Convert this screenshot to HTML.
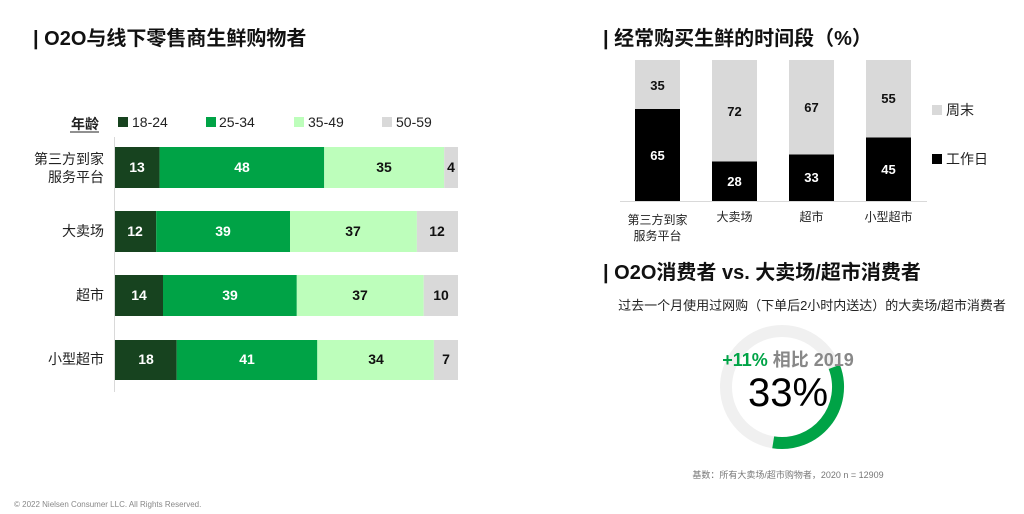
<!DOCTYPE html>
<html><head><meta charset="utf-8"><style>
body{margin:0;background:#fff;}
svg{display:block;font-family:"Liberation Sans","Noto Sans CJK SC",sans-serif;}
</style></head><body>
<svg width="1024" height="514" viewBox="0 0 1024 514">
<rect width="1024" height="514" fill="#fff"/>
<!-- titles -->
<text x="33" y="45" font-size="20" font-weight="bold" fill="#111">| O2O与线下零售商生鲜购物者</text>
<text x="603" y="45" font-size="20" font-weight="bold" fill="#111">| 经常购买生鲜的时间段（%）</text>
<text x="603" y="279" font-size="20" font-weight="bold" fill="#111">| O2O消费者 vs. 大卖场/超市消费者</text>

<!-- left legend -->
<text x="99" y="129" font-size="14" font-weight="bold" fill="#222" text-anchor="end">年龄</text>
<line x1="70" y1="132" x2="99" y2="132" stroke="#222" stroke-width="1"/>
<rect x="118" y="117" width="10" height="10" fill="#17431f"/><text x="132" y="127" font-size="14" fill="#222">18-24</text>
<rect x="206" y="117" width="10" height="10" fill="#00a346"/><text x="219" y="127" font-size="14" fill="#222">25-34</text>
<rect x="294" y="117" width="10" height="10" fill="#bdfebb"/><text x="308" y="127" font-size="14" fill="#222">35-49</text>
<rect x="382" y="117" width="10" height="10" fill="#d9d9d9"/><text x="396" y="127" font-size="14" fill="#222">50-59</text>

<line x1="114.5" y1="137" x2="114.5" y2="392" stroke="#d9d9d9"/>

<g font-size="14" font-weight="bold" text-anchor="middle">
<!-- row1 -->
<rect x="115" y="147" width="44.6" height="41" fill="#17431f"/>
<rect x="159.6" y="147" width="164.6" height="41" fill="#00a346"/>
<rect x="324.2" y="147" width="120" height="41" fill="#bdfebb"/>
<rect x="444.2" y="147" width="13.8" height="41" fill="#d9d9d9"/>
<text x="137" y="172" fill="#fff">13</text><text x="242" y="172" fill="#fff">48</text><text x="384" y="172" fill="#111">35</text><text x="451" y="172" fill="#111">4</text>
<!-- row2 -->
<rect x="115" y="211" width="41.2" height="41" fill="#17431f"/>
<rect x="156.2" y="211" width="133.8" height="41" fill="#00a346"/>
<rect x="290" y="211" width="126.9" height="41" fill="#bdfebb"/>
<rect x="416.9" y="211" width="41.1" height="41" fill="#d9d9d9"/>
<text x="135" y="236" fill="#fff">12</text><text x="223" y="236" fill="#fff">39</text><text x="353" y="236" fill="#111">37</text><text x="437" y="236" fill="#111">12</text>
<!-- row3 -->
<rect x="115" y="275" width="48" height="41" fill="#17431f"/>
<rect x="163" y="275" width="133.8" height="41" fill="#00a346"/>
<rect x="296.8" y="275" width="126.9" height="41" fill="#bdfebb"/>
<rect x="423.7" y="275" width="34.3" height="41" fill="#d9d9d9"/>
<text x="139" y="300" fill="#fff">14</text><text x="230" y="300" fill="#fff">39</text><text x="360" y="300" fill="#111">37</text><text x="441" y="300" fill="#111">10</text>
<!-- row4 -->
<rect x="115" y="340" width="61.7" height="40" fill="#17431f"/>
<rect x="176.7" y="340" width="140.6" height="40" fill="#00a346"/>
<rect x="317.3" y="340" width="116.6" height="40" fill="#bdfebb"/>
<rect x="433.9" y="340" width="24.1" height="40" fill="#d9d9d9"/>
<text x="146" y="364" fill="#fff">18</text><text x="247" y="364" fill="#fff">41</text><text x="376" y="364" fill="#111">34</text><text x="446" y="364" fill="#111">7</text>
</g>

<g font-size="14" fill="#222" text-anchor="end">
<text x="104" y="164">第三方到家</text><text x="104" y="182">服务平台</text>
<text x="104" y="236">大卖场</text>
<text x="104" y="300">超市</text>
<text x="104" y="364">小型超市</text>
</g>

<!-- right stacked columns -->
<g font-size="13" font-weight="bold" text-anchor="middle">
<rect x="635" y="60" width="45" height="49" fill="#d9d9d9"/><rect x="635" y="109" width="45" height="92" fill="#000"/>
<text x="657.5" y="90" fill="#111">35</text><text x="657.5" y="160" fill="#fff">65</text>
<rect x="712" y="60" width="45" height="101.5" fill="#d9d9d9"/><rect x="712" y="161.5" width="45" height="39.5" fill="#000"/>
<text x="734.5" y="116" fill="#111">72</text><text x="734.5" y="186" fill="#fff">28</text>
<rect x="789" y="60" width="45" height="94.5" fill="#d9d9d9"/><rect x="789" y="154.5" width="45" height="46.5" fill="#000"/>
<text x="811.5" y="112" fill="#111">67</text><text x="811.5" y="182" fill="#fff">33</text>
<rect x="866" y="60" width="45" height="77.5" fill="#d9d9d9"/><rect x="866" y="137.5" width="45" height="63.5" fill="#000"/>
<text x="888.5" y="103" fill="#111">55</text><text x="888.5" y="174" fill="#fff">45</text>
</g>
<line x1="620" y1="201.5" x2="927" y2="201.5" stroke="#d9d9d9"/>
<g font-size="12" fill="#222" text-anchor="middle">
<text x="657.5" y="224">第三方到家</text><text x="657.5" y="240">服务平台</text>
<text x="734.5" y="221">大卖场</text>
<text x="811.5" y="221">超市</text>
<text x="888.5" y="221">小型超市</text>
</g>
<rect x="932" y="105" width="10" height="10" fill="#d9d9d9"/><text x="946" y="115" font-size="14" fill="#222">周末</text>
<rect x="932" y="154" width="10" height="10" fill="#000"/><text x="946" y="164" font-size="14" fill="#222">工作日</text>

<!-- donut section -->
<text x="812" y="310" font-size="13" fill="#222" text-anchor="middle">过去一个月使用过网购（下单后2小时内送达）的大卖场/超市消费者</text>
<circle cx="782" cy="387" r="56" fill="none" stroke="#f0f0f0" stroke-width="12"/>
<path d="M834.3 366.9 A56 56 0 0 1 773.2 442.3" fill="none" stroke="#00a346" stroke-width="12"/>
<text x="788" y="366" font-size="18" font-weight="bold" text-anchor="middle"><tspan fill="#00a346">+11%</tspan><tspan fill="#888"> 相比 2019</tspan></text>
<text x="788" y="406" font-size="40" fill="#000" text-anchor="middle">33%</text>
<text x="788" y="478" font-size="9" fill="#777" text-anchor="middle">基数：所有大卖场/超市购物者，2020 n = 12909</text>

<text x="14" y="507" font-size="8" fill="#888">© 2022 Nielsen Consumer LLC. All Rights Reserved.</text>
</svg>
</body></html>
